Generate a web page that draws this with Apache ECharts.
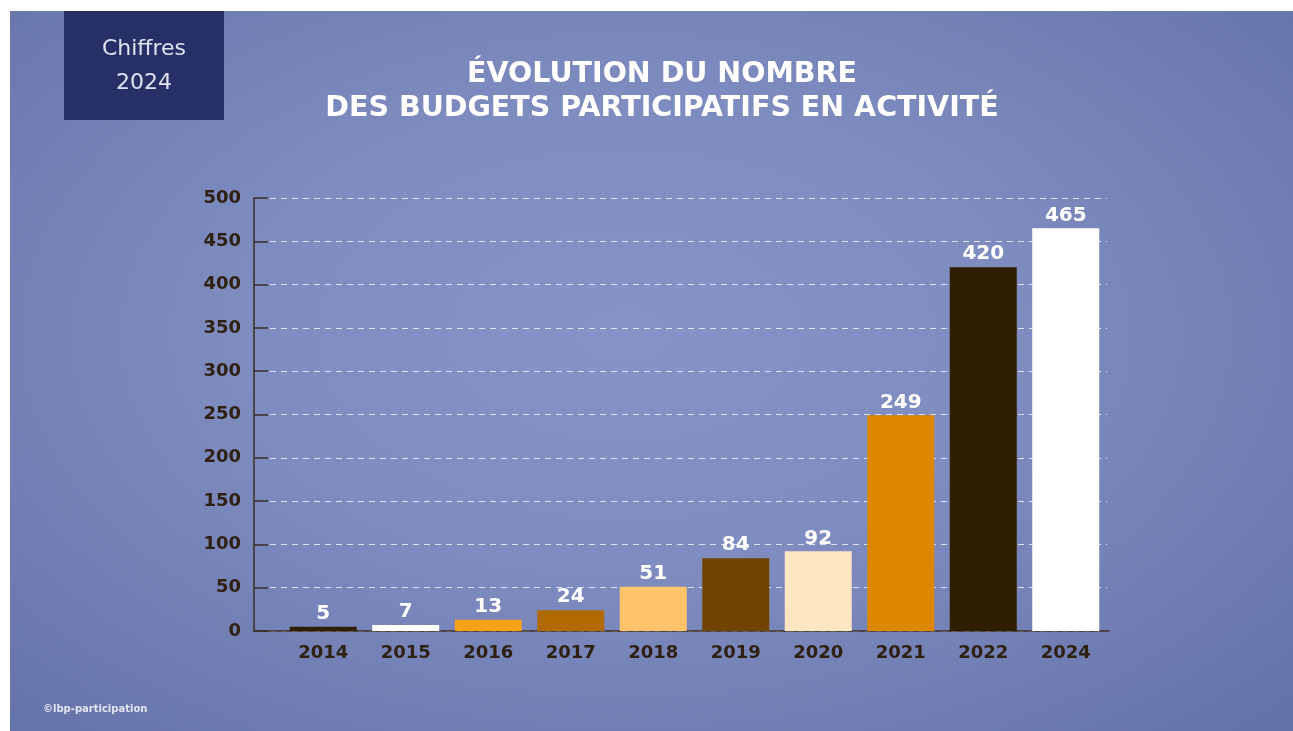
<!DOCTYPE html>
<html>
<head>
<meta charset="utf-8">
<script src="https://cdn.jsdelivr.net/npm/echarts@6/dist/echarts.min.js"></script>
<style>
html,body{margin:0;padding:0;background:#ffffff;width:1293px;height:731px;overflow:hidden;}
#bg{position:absolute;left:10px;top:11px;width:1283px;height:720px;
background:radial-gradient(ellipse 75% 80% at 48% 45%, #8693c6 0%, #7f8cc0 40%, #6e7cb1 75%, #6170a5 100%);}
#chart{position:absolute;left:0;top:0;width:1293px;height:731px;}
</style>
</head>
<body>
<div id="bg"></div>
<div id="chart"></div>
<script>
const categories = ['2014','2015','2016','2017','2018','2019','2020','2021','2022','2024'];
const values = [5, 7, 13, 24, 51, 84, 92, 249, 420, 465];
const yTicks = [0,50,100,150,200,250,300,350,400,450,500];
const barColors = ['#2f1e05','#ffffff','#f7a11a','#b06a00','#ffc46a','#6f4400','#ffe6c2','#de8600','#2f1f00','#ffffff'];

const dark = '#3b2f25';
const labelColor = '#2e2112';
const font = 'DejaVu Sans';

const chart = echarts.init(document.getElementById('chart'), null, {renderer:'canvas'});
const common = {top:198, bottom:100};
chart.setOption({
  backgroundColor:'transparent',
  animation:false,
  title:{
    text:'ÉVOLUTION DU NOMBRE\nDES BUDGETS PARTICIPATIFS EN ACTIVITÉ',
    left:657, top:53, textAlign:'center',
    textStyle:{color:'#ffffff', fontFamily:font, fontWeight:'bold', fontSize:28.5, lineHeight:34}
  },
  graphic:[
    {type:'rect', left:64, top:11, shape:{width:160, height:109}, style:{fill:'#262f66'}, z:1},
    {type:'text', x:144, y:66, z:2, style:{text:'Chiffres\n2024', textAlign:'center', textVerticalAlign:'middle',
      fill:'#dfe2f0', font:'22px "DejaVu Sans"', lineHeight:34}},
    {type:'text', x:43, y:709, z:2, style:{text:'©lbp-participation', textAlign:'left', textVerticalAlign:'middle',
      fill:'#e2e5f2', font:'bold 10px "DejaVu Sans"'}}
  ],
  grid:[
    Object.assign({left:254, right:184}, common),
    Object.assign({left:270, right:186}, common),
    Object.assign({left:282, right:186}, common)
  ],
  xAxis:[
    {gridIndex:0, type:'value', min:0, max:1, axisLine:{show:true, lineStyle:{color:dark, width:1.5}},
      axisTick:{show:false}, axisLabel:{show:false}, splitLine:{show:false}},
    {gridIndex:1, type:'value', min:0, max:1, show:false},
    {gridIndex:2, type:'category', data:categories,
      axisLine:{show:false}, axisTick:{show:false},
      axisLabel:{color:labelColor, fontFamily:font, fontWeight:'bold', fontSize:18, margin:13}}
  ],
  yAxis:[
    {gridIndex:0, type:'value', min:yTicks[0], max:yTicks[yTicks.length-1], interval:yTicks[1]-yTicks[0],
      axisLine:{show:true, lineStyle:{color:dark, width:1.5}},
      axisTick:{show:true, inside:true, length:14, lineStyle:{color:dark, width:1.5}},
      axisLabel:{color:labelColor, fontFamily:font, fontWeight:'bold', fontSize:18, margin:13},
      splitLine:{show:false}},
    {gridIndex:1, type:'value', min:yTicks[0], max:yTicks[yTicks.length-1], interval:yTicks[1]-yTicks[0],
      axisLine:{show:false}, axisTick:{show:false}, axisLabel:{show:false},
      splitLine:{show:true, lineStyle:{color:'rgba(255,255,255,0.75)', width:1.2, type:[6,5]}}},
    {gridIndex:2, type:'value', min:yTicks[0], max:yTicks[yTicks.length-1], show:false}
  ],
  series:[{
    type:'bar', xAxisIndex:2, yAxisIndex:2,
    data:values, barWidth:67,
    itemStyle:{color:function(p){return barColors[p.dataIndex];}},
    label:{show:true, position:'top', distance:3, color:'#ffffff', fontFamily:font, fontWeight:'bold', fontSize:20},
    z:3
  }]
});
</script>
</body>
</html>
